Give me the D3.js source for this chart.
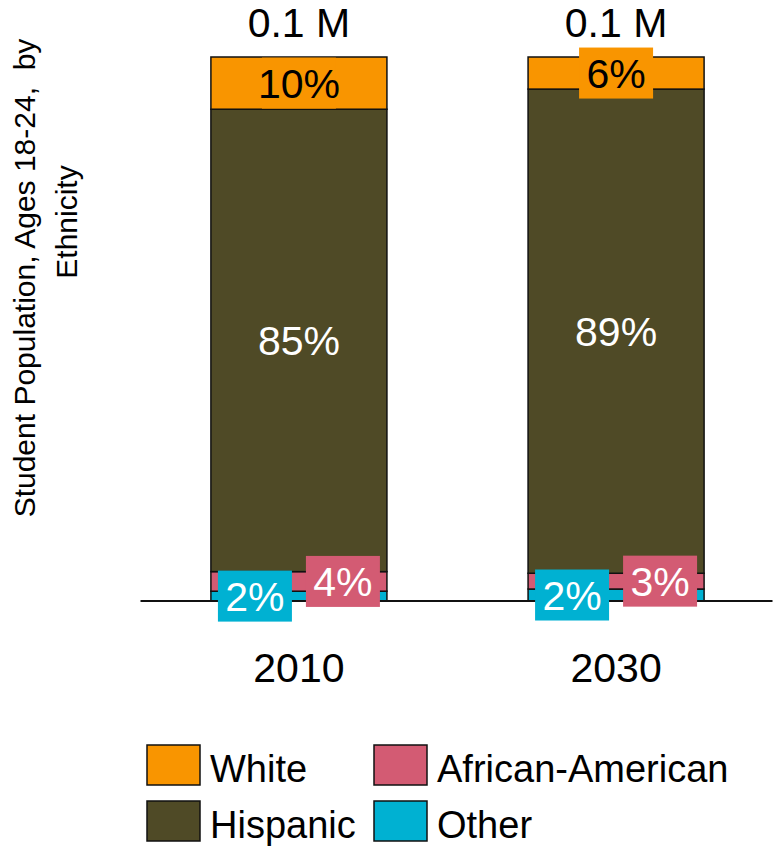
<!DOCTYPE html>
<html>
<head>
<meta charset="utf-8">
<script src="https://cdn.jsdelivr.net/npm/d3@7"></script>
<style>
  body { margin: 0; background: #fff; }
  text { font-family: "Liberation Sans", Arial, sans-serif; }
</style>
</head>
<body>
<div id="vis"></div>
<script>
const FRAME_WIDTH = 779;
const FRAME_HEIGHT = 850;

// data (share of students, %)
const YEARS = ["2010", "2030"];
const TOTALS = ["0.1 M", "0.1 M"];
const GROUPS = ["Other", "African-American", "Hispanic", "White"]; // bottom -> top
const OTHER = [1.8, 2.2];
const AFRICAN_AMERICAN = [3.6, 2.9];
const HISPANIC = [85.0, 89.0];
const WHITE = [9.6, 5.9];
const COLORS = ["#00b1d2", "#d35b73", "#4f4a26", "#f99500"];
const LABEL_COLORS = ["#fff", "#fff", "#fff", "#000"];
const LEGEND_ORDER = ["White", "African-American", "Hispanic", "Other"];

const FRAME = d3.select("#vis")
  .append("svg")
    .attr("width", FRAME_WIDTH)
    .attr("height", FRAME_HEIGHT);

// build rows for the stack
const rows = YEARS.map((y, i) => ({
  year: y,
  "Other": OTHER[i],
  "African-American": AFRICAN_AMERICAN[i],
  "Hispanic": HISPANIC[i],
  "White": WHITE[i]
}));

const stack = d3.stack().keys(GROUPS)(rows);

const X_SCALE = d3.scaleBand()
  .domain(YEARS)
  .range([140.5, 774.5])
  .paddingInner(0.445)
  .paddingOuter(0.222);

const Y_SCALE = d3.scaleLinear()
  .domain([0, 100])
  .range([601, 57]);

const color = d3.scaleOrdinal().domain(GROUPS).range(COLORS);
const labelColor = d3.scaleOrdinal().domain(GROUPS).range(LABEL_COLORS);

// bars
FRAME.append("g").selectAll("g")
  .data(stack)
  .enter()
  .append("g")
    .attr("fill", (s) => color(s.key))
  .selectAll("rect")
  .data((s) => s)
  .enter()
  .append("rect")
    .attr("x", (d) => X_SCALE(d.data.year))
    .attr("y", (d) => Y_SCALE(d[1]))
    .attr("width", X_SCALE.bandwidth())
    .attr("height", (d) => Y_SCALE(d[0]) - Y_SCALE(d[1]))
    .attr("stroke", "#111")
    .attr("stroke-width", 1.5);

// baseline
FRAME.append("line")
  .attr("x1", X_SCALE.range()[0])
  .attr("x2", X_SCALE.range()[1] - 2)
  .attr("y1", Y_SCALE(0))
  .attr("y2", Y_SCALE(0))
  .attr("stroke", "#111")
  .attr("stroke-width", 2);

// segment labels, small ones get a box and are pushed sideways
const BOX_W = 74, BOX_H = 51, SHIFT = 44;
stack.forEach((s) => {
  s.forEach((d) => {
    const cx = X_SCALE(d.data.year) + X_SCALE.bandwidth() / 2;
    const cy = (Y_SCALE(d[0]) + Y_SCALE(d[1])) / 2;
    let x = cx;
    if (s.key === "Other") x = cx - SHIFT;
    if (s.key === "African-American") x = cx + SHIFT;
    const g = FRAME.append("g");
    if (s.key !== "Hispanic") {
      g.append("rect")
        .attr("x", x - BOX_W / 2)
        .attr("y", cy - BOX_H / 2)
        .attr("width", BOX_W)
        .attr("height", BOX_H)
        .attr("fill", color(s.key));
    }
    g.append("text")
      .attr("x", x)
      .attr("y", cy)
      .attr("dy", "0.36em")
      .attr("text-anchor", "middle")
      .attr("font-size", 41)
      .attr("fill", labelColor(s.key))
      .text(Math.round(d[1] - d[0]) + "%");
  });
});

// totals on top
FRAME.append("g").selectAll("text")
  .data(YEARS)
  .enter()
  .append("text")
    .attr("x", (d) => X_SCALE(d) + X_SCALE.bandwidth() / 2)
    .attr("y", 37)
    .attr("text-anchor", "middle")
    .attr("font-size", 41)
    .text((d, i) => TOTALS[i]);

// x axis labels
const xAxis = FRAME.append("g")
  .attr("transform", "translate(0," + Y_SCALE(0) + ")")
  .call(d3.axisBottom(X_SCALE).tickSize(0).tickPadding(52));
xAxis.select(".domain").remove();
xAxis.selectAll("text")
  .attr("font-size", 41)
  .attr("font-family", "Liberation Sans, Arial, sans-serif")
  .attr("fill", "#000");

// y axis title
const title = FRAME.append("g")
  .attr("transform", "rotate(-90)");
title.append("text")
  .attr("x", -278)
  .attr("y", 35)
  .attr("text-anchor", "middle")
  .attr("font-size", 30)
  .attr("xml:space", "preserve")
  .text("Student Population, Ages 18-24,  by");
title.append("text")
  .attr("x", -222)
  .attr("y", 77)
  .attr("text-anchor", "middle")
  .attr("font-size", 30)
  .text("Ethnicity");

// legend
const LEG_X = [147, 374];
const LEG_Y = [745, 801];
const legend = FRAME.append("g").selectAll("g")
  .data(LEGEND_ORDER)
  .enter()
  .append("g")
    .attr("transform", (d, i) => "translate(" + LEG_X[i % 2] + "," + LEG_Y[Math.floor(i / 2)] + ")");
legend.append("rect")
  .attr("width", 53)
  .attr("height", 40)
  .attr("fill", (d) => color(d))
  .attr("stroke", "#111")
  .attr("stroke-width", 1.5);
legend.append("text")
  .attr("x", 63)
  .attr("y", 37)
  .attr("font-size", 38)
  .text((d) => d);
</script>
</body>
</html>
